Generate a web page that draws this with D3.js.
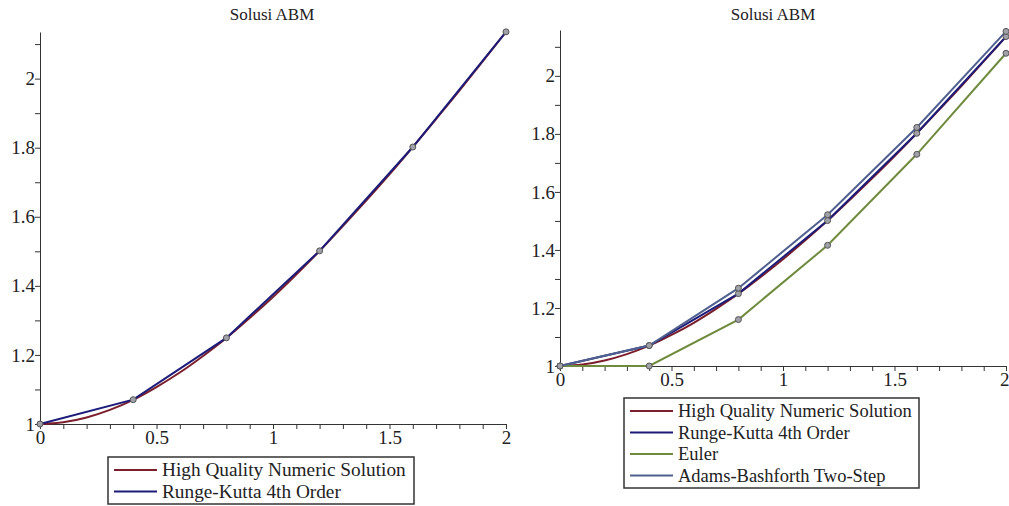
<!DOCTYPE html>
<html>
<head>
<meta charset="utf-8">
<script src="https://cdn.jsdelivr.net/npm/d3@7"></script>
<style>
  body { margin: 0; background: #fff; }
  svg { display: block; font-family: "Liberation Serif", "DejaVu Serif", serif; }
</style>
</head>
<body>
<div id="chart"></div>
<script>
// step points (h = 0.4)
const tSteps = [0, 0.4, 0.8, 1.2, 1.6, 2.0];
const rk4 = [1.0, 1.0704, 1.2494, 1.5013, 1.8020, 2.1354];
const euler = [1.0, 1.0, 1.16, 1.416, 1.7296, 2.0778];
const adamsBashforth = [1.0, 1.0704, 1.2682, 1.5214, 1.8222, 2.1532];

// high quality numeric solution, read at 0.1 spacing
const tFine = [0, 0.1, 0.2, 0.3, 0.4, 0.5, 0.6, 0.7, 0.8, 0.9, 1.0,
  1.1, 1.2, 1.3, 1.4, 1.5, 1.6, 1.7, 1.8, 1.9, 2.0];
const hqSolution = [1.0, 1.005, 1.019, 1.041, 1.070, 1.107, 1.149, 1.197, 1.249, 1.307, 1.368,
  1.433, 1.501, 1.573, 1.647, 1.723, 1.802, 1.883, 1.965, 2.050, 2.135];

const titleText = 'Solusi ABM';
const xTicks = [0, 0.5, 1, 1.5, 2];
const yTicks = [1, 1.2, 1.4, 1.6, 1.8, 2];

const COLORS = {
  hq: '#7a1f2b',
  rk4: '#1c1c7a',
  euler: '#6e8b3d',
  ab: '#50608f'
};

const width = 1009;
const height = 506;
const FONT = '"Liberation Serif", "DejaVu Serif", serif';

const svg = d3.select('#chart').append('svg')
  .attr('width', width)
  .attr('height', height);

function toPoints(ts, ys) {
  return ts.map((t, i) => ({t, y: ys[i]}));
}

function isMajor(list, d) {
  return list.some((v) => Math.abs(v - d) < 1e-9);
}

function drawPanel(cfg) {
  const g = svg.append('g');

  const x = d3.scaleLinear().domain([0, 2]).range([cfg.left, cfg.right]);
  const y = d3.scaleLinear().domain([1, cfg.yMax]).range([cfg.bottom, cfg.top]);

  // title
  g.append('text')
    .attr('x', cfg.titleX)
    .attr('y', 20)
    .attr('text-anchor', 'middle')
    .attr('font-family', FONT)
    .attr('font-size', 17)
    .attr('fill', '#222')
    .text(titleText);

  // every 0.1 gets a tick, labels only on the majors
  const xMinor = d3.range(0, 21).map((d) => d / 10);
  const yMinor = d3.range(10, Math.floor(cfg.yMax * 10) + 1).map((d) => d / 10);

  const xAxis = d3.axisBottom(x)
    .tickValues(xMinor)
    .tickSize(5)
    .tickSizeOuter(0)
    .tickFormat((d) => (isMajor(xTicks, d) ? String(+d.toFixed(1)) : ''));

  const yAxis = d3.axisLeft(y)
    .tickValues(yMinor)
    .tickSize(5)
    .tickSizeOuter(0)
    .tickFormat((d) => (isMajor(yTicks, d) ? String(+d.toFixed(1)) : ''));

  const xg = g.append('g')
    .attr('transform', `translate(0,${cfg.bottom})`)
    .attr('font-family', FONT)
    .call(xAxis);
  xg.select('.domain').attr('stroke', '#333');
  xg.selectAll('.tick line').attr('stroke', '#333');
  xg.selectAll('.tick text')
    .attr('font-family', FONT)
    .attr('font-size', 19)
    .attr('fill', '#222')
    .attr('y', 5)
    .attr('dy', '0.8em');

  // keep the last label inside the page
  if (cfg.clampLast) {
    xg.selectAll('.tick text')
      .filter((d) => d === 2)
      .attr('text-anchor', 'end')
      .attr('x', width - cfg.right);
  }

  const yg = g.append('g')
    .attr('transform', `translate(${cfg.left},0)`)
    .attr('font-family', FONT)
    .call(yAxis);
  yg.select('.domain').attr('stroke', '#333');
  yg.selectAll('.tick line').attr('stroke', '#333');
  yg.selectAll('.tick text')
    .attr('font-family', FONT)
    .attr('font-size', 19)
    .attr('fill', '#222')
    .attr('x', -5);

  const line = d3.line()
    .x((d) => x(d.t))
    .y((d) => y(d.y));
  const smooth = d3.line()
    .curve(d3.curveMonotoneX)
    .x((d) => x(d.t))
    .y((d) => y(d.y));

  cfg.series.forEach((s) => {
    g.append('path')
      .datum(s.data)
      .attr('fill', 'none')
      .attr('stroke', s.color)
      .attr('stroke-width', 2)
      .attr('d', s.smooth ? smooth : line);
  });

  cfg.series.filter((s) => s.points).forEach((s) => {
    g.append('g').selectAll('circle')
      .data(s.data)
      .join('circle')
      .attr('cx', (d) => x(d.t))
      .attr('cy', (d) => y(d.y))
      .attr('r', 3)
      .attr('fill', '#a0a0a8')
      .attr('stroke', '#555')
      .attr('stroke-width', 1);
  });

  // legend
  const lg = svg.append('g');
  const rowH = 21.5;
  lg.append('rect')
    .attr('x', cfg.legendX)
    .attr('y', cfg.legendY)
    .attr('width', cfg.legendW)
    .attr('height', cfg.series.length * rowH + 4)
    .attr('fill', '#fff')
    .attr('stroke', '#333')
    .attr('stroke-width', 1.5);

  cfg.series.forEach((s, i) => {
    const cy = cfg.legendY + 13 + i * rowH;
    lg.append('line')
      .attr('x1', cfg.legendX + 6)
      .attr('x2', cfg.legendX + 49)
      .attr('y1', cy)
      .attr('y2', cy)
      .attr('stroke', s.color)
      .attr('stroke-width', 2);
    lg.append('text')
      .attr('x', cfg.legendX + 54)
      .attr('y', cy + 6)
      .attr('font-family', FONT)
      .attr('font-size', cfg.legendFont)
      .attr('fill', '#222')
      .text(s.name);
  });
}

const hqSeries = {name: 'High Quality Numeric Solution', color: COLORS.hq, smooth: true, data: toPoints(tFine, hqSolution)};
const rkSeries = {name: 'Runge-Kutta 4th Order', color: COLORS.rk4, points: true, data: toPoints(tSteps, rk4)};
const eulerSeries = {name: 'Euler', color: COLORS.euler, points: true, data: toPoints(tSteps, euler)};
const abSeries = {name: 'Adams-Bashforth Two-Step', color: COLORS.ab, points: true, data: toPoints(tSteps, adamsBashforth)};

drawPanel({
  left: 40, right: 506, top: 32, bottom: 424, yMax: 2.135,
  titleX: 272,
  legendX: 108, legendY: 457, legendW: 306, legendFont: 19.3,
  series: [hqSeries, rkSeries]
});

drawPanel({
  left: 560, right: 1006, top: 30, bottom: 366, yMax: 2.158,
  titleX: 773, clampLast: true,
  legendX: 624, legendY: 398, legendW: 295, legendFont: 18.5,
  series: [hqSeries, rkSeries, eulerSeries, abSeries]
});
</script>
</body>
</html>
